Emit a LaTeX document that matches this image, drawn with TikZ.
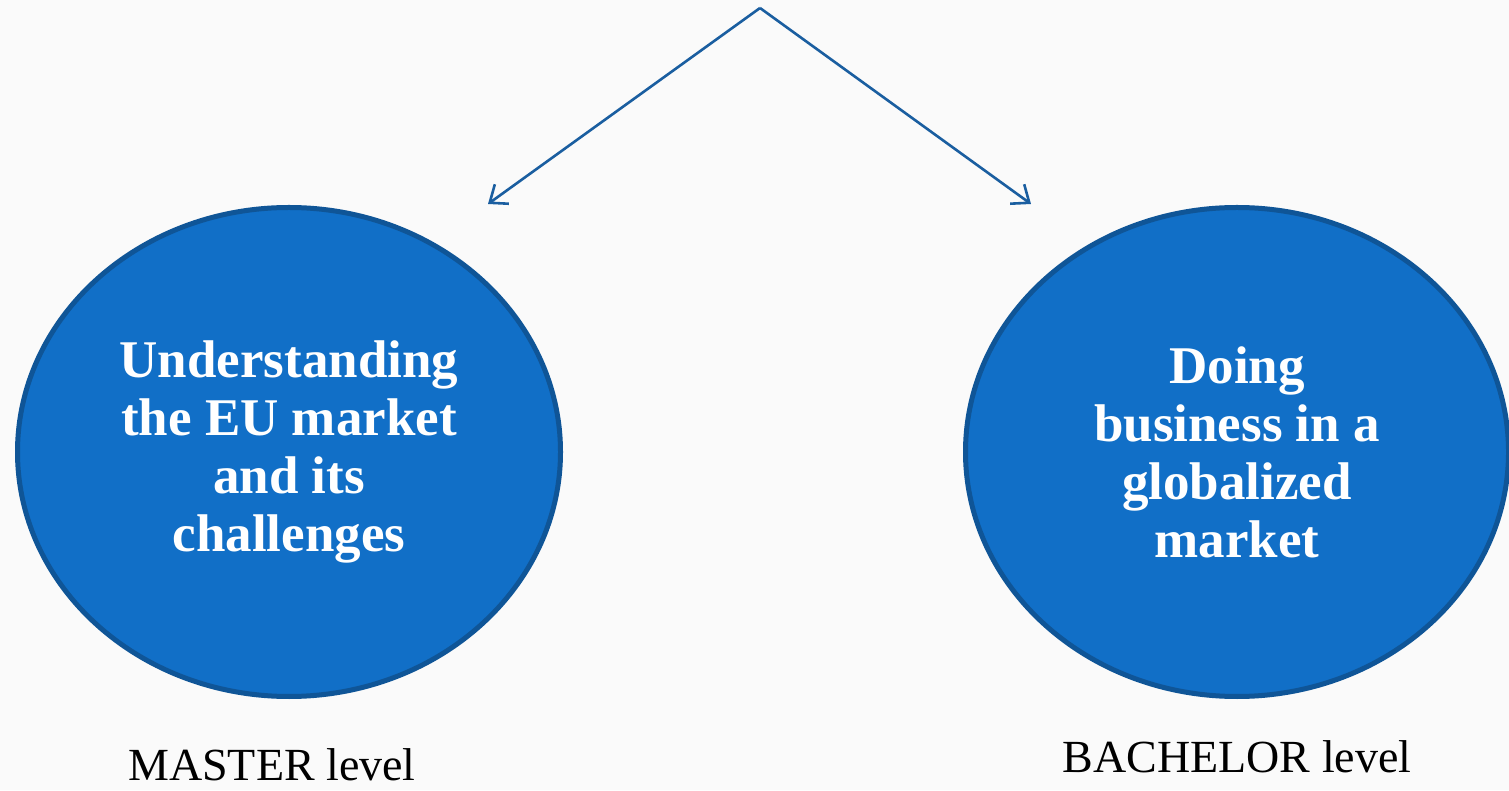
\documentclass[tikz,border=0pt]{standalone}
\usepackage{fontspec}
\setmainfont{Liberation Serif}
\usepackage{tikz}
\usepackage{xcolor}
\usetikzlibrary{shapes.geometric,arrows.meta}
\definecolor{col1}{HTML}{116FC7}
\definecolor{col2}{HTML}{0F5597}
\definecolor{col3}{HTML}{1A5EA0}
\definecolor{col4}{HTML}{FAFAFA}
\def\master{Understanding\\the EU market\\and its\\challenges}
\def\bachelor{Doing\\business in a\\globalized\\market}

\begin{document}
\begin{tikzpicture}[x=1pt, y=1pt,
		blob/.style={ellipse, draw=col2, fill=col1, line width=5pt, text=white,
			minimum width=543pt, minimum height=489pt, align=center,
			font=\fontsize{53}{58}\selectfont\bfseries},
		lvl/.style={anchor=base, inner sep=0pt, font=\fontsize{46}{50}\selectfont},
		link/.style={col3, line width=2.6pt, -{Straight Barb[length=15pt, width=24pt, line width=2.6pt]}},
	]
	\fill[col4] (0,0) rectangle (1509,790);
	\useasboundingbox (0,0) rectangle (1509,790);
	\node[blob] (left) at (289,338) {\master};
	\node[blob] (right) at (1237,338) {\bachelor};
	\node[lvl] (mlvl) at (272,10) {MASTER level};
	\node[lvl] (blvl) at (1237,18) {BACHELOR level};
	\coordinate (apex) at (760,782);
	\coordinate (lend) at (488,586);
	\coordinate (rend) at (1031,586);
	\draw[link] (apex) -- (lend);
	\draw[link] (apex) -- (rend);
\end{tikzpicture}
\end{document}
